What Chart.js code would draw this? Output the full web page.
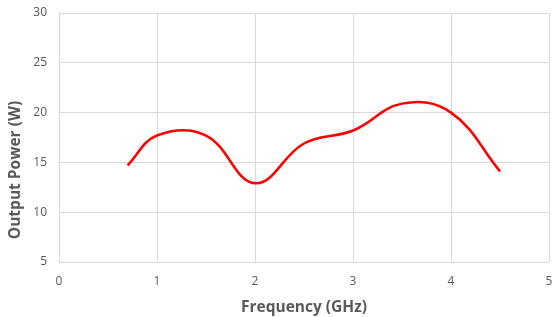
<!DOCTYPE html>
<html>
<head>
<meta charset="utf-8">
<script src="https://cdn.jsdelivr.net/npm/chart.js@4"></script>
<style>
  html, body { margin: 0; padding: 0; background: #fff; }
  #wrap { width: 560px; height: 317px; }
</style>
</head>
<body>
<div id="wrap"><canvas id="power-graph" width="560" height="317"></canvas></div>
<script>
// frequency in GHz, output power in W
const frequency = [0.7, 1.0, 1.5, 2.0, 2.5, 3.0, 3.5, 4.0, 4.5];
const outputPower = [14.7, 17.7, 17.7, 12.9, 16.9, 18.2, 20.9, 20.0, 14.1];
const xTicks = [0, 1, 2, 3, 4, 5];
const yTicks = [5, 10, 15, 20, 25, 30];

const gray = '#595959';
const gridColor = '#d9d9d9';
const fontFamily = "'Open Sans', 'Liberation Sans', sans-serif";

const points = frequency.map((f, i) => ({ x: f, y: outputPower[i] }));

// the y title sits a bit below the middle of the axis, like in the original, so draw it by hand
const yTitlePlugin = {
    id: 'yTitle',
    afterDraw(chart) {
        const c = chart.ctx;
        c.save();
        c.translate(16, 170);
        c.rotate(-Math.PI / 2);
        c.fillStyle = gray;
        c.font = 'bold 15.5px ' + fontFamily;
        c.textAlign = 'center';
        c.textBaseline = 'middle';
        c.fillText('Output Power (W)', 0, 0);
        c.restore();
    }
};

const ctx = document.getElementById('power-graph').getContext('2d');
new Chart(ctx, {
    type: 'scatter',
    data: {
        datasets: [{
            label: 'Output Power',
            data: points,
            showLine: true,
            borderColor: '#ff0000',
            borderWidth: 2.5,
            pointRadius: 0,
            tension: 0.4,
            fill: false
        }]
    },
    options: {
        responsive: false,
        animation: false,
        layout: { autoPadding: false, padding: { left: 0, right: 11, top: 13, bottom: 0 } },
        plugins: {
            legend: { display: false },
            tooltip: { enabled: false }
        },
        scales: {
            x: {
                type: 'linear',
                min: 0,
                max: 5,
                afterBuildTicks: axis => { axis.ticks = xTicks.map(v => ({ value: v })); },
                afterFit: axis => { axis.height = 55; axis.paddingLeft = 0; axis.paddingRight = 0; },
                grid: { color: gridColor, drawTicks: false },
                border: { display: false },
                ticks: { color: gray, font: { family: fontFamily, size: 12 }, padding: 12 },
                title: {
                    display: true,
                    text: 'Frequency (GHz)',
                    color: gray,
                    font: { family: fontFamily, size: 15.5, weight: 'bold' },
                    padding: { top: 3, bottom: 0 }
                }
            },
            y: {
                type: 'linear',
                min: 5,
                max: 30,
                afterBuildTicks: axis => { axis.ticks = yTicks.map(v => ({ value: v })); },
                afterFit: axis => { axis.width = 59; axis.paddingTop = 0; axis.paddingBottom = 0; },
                grid: { color: gridColor, drawTicks: false },
                border: { display: false },
                ticks: { color: gray, font: { family: fontFamily, size: 12 }, padding: 12 }
            }
        }
    },
    plugins: [yTitlePlugin]
});
</script>
</body>
</html>
